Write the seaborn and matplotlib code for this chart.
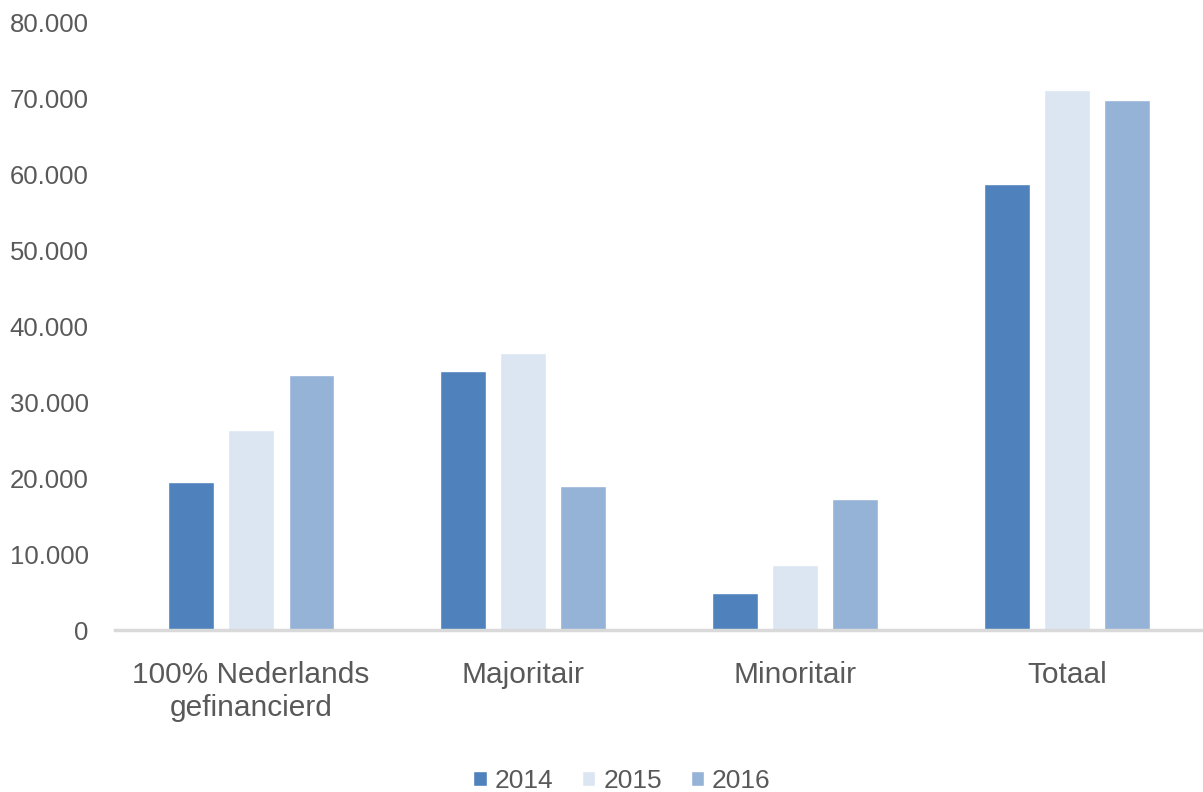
import pandas as pd
import seaborn as sns
import matplotlib.pyplot as plt
from matplotlib.ticker import FuncFormatter, MultipleLocator

categories = ["100% Nederlands\ngefinancierd", "Majoritair", "Minoritair", "Totaal"]
years = ["2014", "2015", "2016"]
v2014 = [19500, 34100, 4900, 58700]
v2015 = [26300, 36500, 8600, 71100]
v2016 = [33600, 19000, 17300, 69700]
colors = ["#4F81BD", "#DCE6F2", "#95B3D7"]

df = pd.DataFrame({
    "categorie": categories * 3,
    "jaar": [y for y in years for _ in categories],
    "waarde": v2014 + v2015 + v2016,
})

sns.set_style("white")
plt.rcParams["font.family"] = ["Liberation Sans", "DejaVu Sans"]
text_color = "#595959"

fig = plt.figure(figsize=(12.03, 7.92), dpi=100)
ax = fig.add_axes([0.0956, 0.2045, 0.9044, 0.7675])

sns.barplot(data=df, x="categorie", y="waarde", hue="jaar", palette=colors,
            saturation=1, width=0.667, gap=0.24, edgecolor="white", linewidth=1, ax=ax)

ax.set_xlim(-0.5, 3.5)
ax.set_ylim(0, 80000)
ax.yaxis.set_major_locator(MultipleLocator(10000))
ax.yaxis.set_major_formatter(FuncFormatter(lambda v, p: f"{int(v):,}".replace(",", ".")))
ax.set_xlabel("")
ax.set_ylabel("")

for s in ["left", "right", "top"]:
    ax.spines[s].set_visible(False)
ax.spines["bottom"].set_color("#D9D9D9")
ax.spines["bottom"].set_linewidth(2.5)

ax.tick_params(axis="y", length=0, pad=19, labelsize=18.5, labelcolor=text_color)
ax.tick_params(axis="x", length=0, pad=22, labelsize=21.5, labelcolor=text_color)
for lab in ax.get_xticklabels():
    lab.set_linespacing(1.25)

ax.legend(loc="upper center", bbox_to_anchor=(0.466, -0.19), ncol=3, frameon=False,
          fontsize=19, labelcolor=text_color, handlelength=0.5, handleheight=0.5,
          handletextpad=0.3, columnspacing=1.1)

fig.savefig("out.png", dpi=100)
